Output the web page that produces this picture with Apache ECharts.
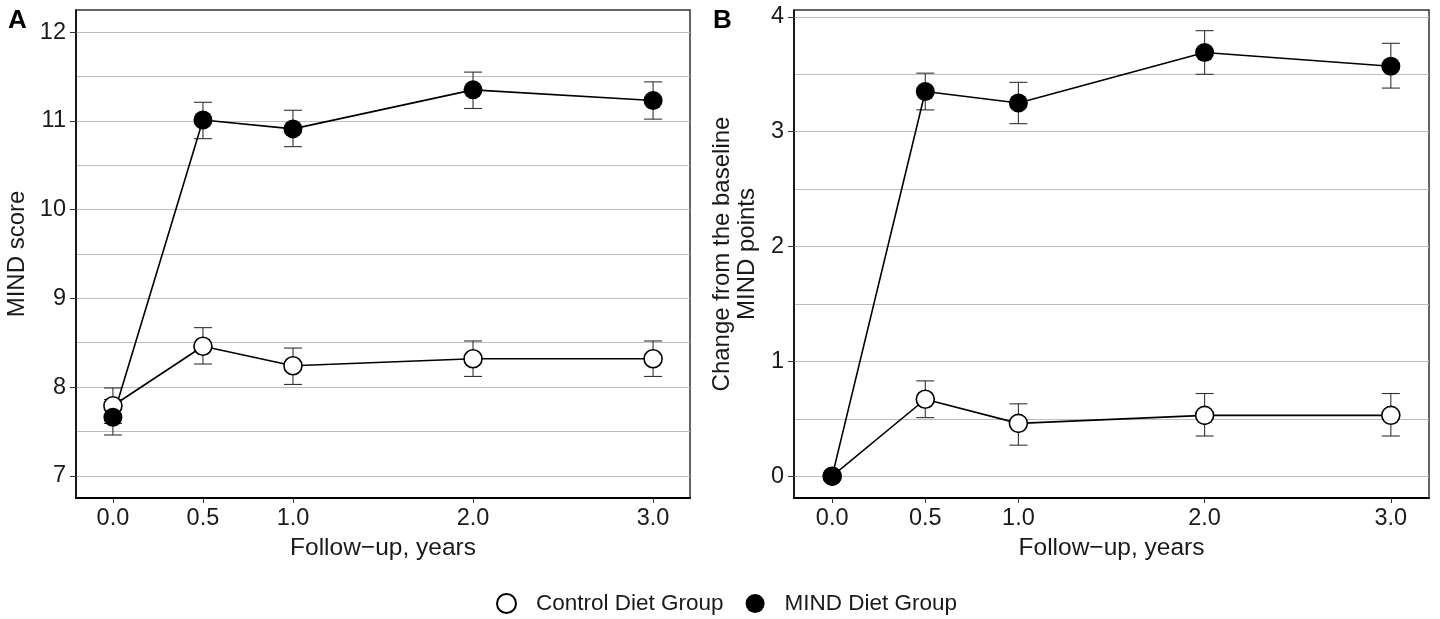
<!DOCTYPE html>
<html>
<head>
<meta charset="utf-8">
<script src="https://cdn.jsdelivr.net/npm/echarts@6/dist/echarts.min.js"></script>
<style>
html,body{margin:0;padding:0;background:#fff;}
#chart{width:1440px;height:619px;}
</style>
</head>
<body>
<div id="chart"></div>
<script>
// ---- Data ----
const years = [0, 0.5, 1, 2, 3];
const xTicks = [0, 0.5, 1, 2, 3];
const seriesNames = ['Control Diet Group', 'MIND Diet Group'];

// Panel A: MIND score
const aControl   = [7.79, 8.46, 8.24, 8.32, 8.32];
const aControlLo = [7.59, 8.26, 8.03, 8.12, 8.12];
const aControlHi = [7.99, 8.67, 8.44, 8.52, 8.52];
const aMind      = [7.66, 11.01, 10.91, 11.35, 11.23];
const aMindLo    = [7.46, 10.80, 10.71, 11.14, 11.02];
const aMindHi    = [7.86, 11.21, 11.12, 11.55, 11.44];
const aYTicks = [7, 8, 9, 10, 11, 12];
const aGridLines = [7, 7.5, 8, 8.5, 9, 9.5, 10, 10.5, 11, 11.5, 12];

// Panel B: change from baseline
const bControl   = [0, 0.67, 0.46, 0.53, 0.53];
const bControlLo = [null, 0.51, 0.27, 0.35, 0.35];
const bControlHi = [null, 0.83, 0.63, 0.72, 0.72];
const bMind      = [0, 3.35, 3.25, 3.69, 3.57];
const bMindLo    = [null, 3.19, 3.07, 3.50, 3.38];
const bMindHi    = [null, 3.51, 3.43, 3.88, 3.77];
const bYTicks = [0, 1, 2, 3, 4];
const bGridLines = [0, 0.5, 1, 1.5, 2, 2.5, 3, 3.5, 4];

// ---- Helpers ----
const FONT = "'Liberation Sans', Arial, sans-serif";
const TXT = '#1a1a1a';

function pts(xs, ys) { return xs.map((x, i) => [x, ys[i]]); }
function errData(xs, lo, hi) {
  const out = [];
  xs.forEach((x, i) => { if (lo[i] != null && hi[i] != null) out.push([x, lo[i], hi[i]]); });
  return out;
}
function errRender(params, api) {
  const x = api.value(0);
  const p1 = api.coord([x, api.value(1)]);
  const p2 = api.coord([x, api.value(2)]);
  const hw = 9;
  const st = { stroke: '#333', lineWidth: 1.1 };
  return {
    type: 'group',
    children: [
      { type: 'line', shape: { x1: p1[0], y1: p1[1], x2: p2[0], y2: p2[1] }, style: st },
      { type: 'line', shape: { x1: p1[0] - hw, y1: p1[1], x2: p1[0] + hw, y2: p1[1] }, style: st },
      { type: 'line', shape: { x1: p2[0] - hw, y1: p2[1], x2: p2[0] + hw, y2: p2[1] }, style: st }
    ]
  };
}
function xAxisOpt(gi) {
  return {
    type: 'value', gridIndex: gi, min: -0.205, max: 3.205,
    name: 'Follow\u2212up, years', nameLocation: 'middle', nameGap: 37,
    nameTextStyle: { fontFamily: FONT, fontSize: 24.5, color: TXT },
    axisLine: { show: true, onZero: false, lineStyle: { color: '#000', width: 2 } },
    axisTick: { show: true, length: 5, customValues: xTicks, lineStyle: { color: '#333', width: 1 } },
    axisLabel: { customValues: xTicks, formatter: v => Number(v).toFixed(1), margin: 9,
      fontFamily: FONT, fontSize: 23.5, color: TXT },
    splitLine: { show: false }
  };
}
function yAxisOpt(gi, min, max, ticks, name, gap) {
  return {
    type: 'value', gridIndex: gi, min: min, max: max,
    name: name, nameLocation: 'middle', nameGap: gap, nameRotate: 90,
    nameTextStyle: { fontFamily: FONT, fontSize: 24, color: TXT, lineHeight: 25, align: 'center' },
    axisLine: { show: true, onZero: false, lineStyle: { color: '#000', width: 1.5 } },
    axisTick: { show: true, length: 6, customValues: ticks, lineStyle: { color: '#333', width: 1 } },
    axisLabel: { customValues: ticks, margin: 10, fontFamily: FONT, fontSize: 23.5, color: TXT },
    splitLine: { show: false }
  };
}
function gridSeries(xi, lines) {
  return {
    type: 'line', xAxisIndex: xi, yAxisIndex: xi, data: [], z: 0, silent: true,
    markLine: {
      silent: true, symbol: ['none', 'none'], z: 0, animation: false,
      label: { show: false },
      lineStyle: { color: '#bdbdbd', width: 1, type: 'solid' },
      emphasis: { disabled: true },
      data: lines.map(v => ({ yAxis: v }))
    }
  };
}
function errSeries(xi, data) {
  return { type: 'custom', xAxisIndex: xi, yAxisIndex: xi, z: 1, silent: true,
    renderItem: errRender, encode: { x: 0, y: [1, 2] }, data: data };
}
function lineSeries(xi, name, data, filled) {
  return {
    type: 'line', name: name, xAxisIndex: xi, yAxisIndex: xi, data: data, z: 2,
    symbol: 'circle', symbolSize: filled ? 19 : 18, showAllSymbol: true,
    lineStyle: { color: '#000', width: 1.6 },
    itemStyle: filled ? { color: '#000', borderColor: '#000', borderWidth: 0 }
                      : { color: '#fff', borderColor: '#000', borderWidth: 1.6 },
    emphasis: { disabled: true }, animation: false
  };
}

const chart = echarts.init(document.getElementById('chart'), null, { renderer: 'canvas' });
chart.setOption({
  backgroundColor: '#fff',
  animation: false,
  title: [
    { text: 'A', left: 3, top: 3, textStyle: { fontFamily: FONT, fontSize: 26, fontWeight: 'bold', color: '#000' } },
    { text: 'B', left: 708, top: 3, textStyle: { fontFamily: FONT, fontSize: 26, fontWeight: 'bold', color: '#000' } }
  ],
  legend: {
    data: seriesNames, left: 491, top: 587, icon: 'circle',
    itemWidth: 19, itemHeight: 19, itemGap: 22,
    textStyle: { fontFamily: FONT, fontSize: 22.5, color: TXT, padding: [0, 0, 0, 15] },
    selectedMode: false
  },
  grid: [
    { left: 76, top: 10, width: 614, height: 488, show: true, borderColor: '#333', borderWidth: 1.5, containLabel: false },
    { left: 794, top: 10, width: 635, height: 488, show: true, borderColor: '#333', borderWidth: 1.5, containLabel: false }
  ],
  xAxis: [xAxisOpt(0), xAxisOpt(1)],
  yAxis: [
    yAxisOpt(0, 6.75, 12.25, aYTicks, 'MIND score', 46),
    yAxisOpt(1, -0.19, 4.06, bYTicks, 'Change from the baseline\nMIND points', 34)
  ],
  series: [
    gridSeries(0, aGridLines),
    gridSeries(1, bGridLines),
    errSeries(0, errData(years, aControlLo, aControlHi)),
    errSeries(0, errData(years, aMindLo, aMindHi)),
    errSeries(1, errData(years, bControlLo, bControlHi)),
    errSeries(1, errData(years, bMindLo, bMindHi)),
    lineSeries(0, seriesNames[0], pts(years, aControl), false),
    lineSeries(0, seriesNames[1], pts(years, aMind), true),
    lineSeries(1, seriesNames[0], pts(years, bControl), false),
    lineSeries(1, seriesNames[1], pts(years, bMind), true)
  ]
});
</script>
</body>
</html>
